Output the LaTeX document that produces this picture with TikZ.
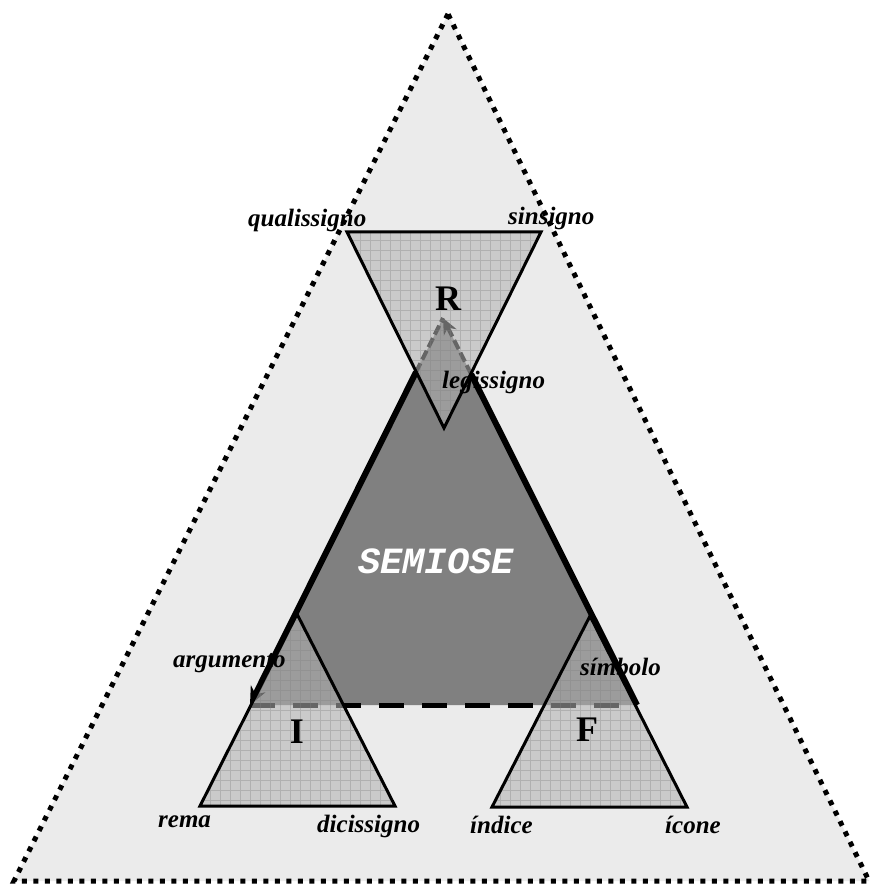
\documentclass[tikz,border=0pt]{standalone}
\usepackage{fontspec}
\setmainfont{Liberation Serif}
\setmonofont{Liberation Mono}
\usetikzlibrary{calc,arrows.meta}

\begin{document}
\begin{tikzpicture}[x=1pt, y=-1pt,
  sign/.style = {font=\fontsize{25}{25}\selectfont\bfseries\itshape, inner sep=0pt, anchor=base west},
  corner/.style = {font=\fontsize{36}{36}\selectfont\bfseries, inner sep=0pt},
  sub/.style = {fill=black!30, fill opacity=0.57},
  subedge/.style = {draw, line width=3pt, line join=miter},
  gridline/.style = {draw=black!50, line width=0.6pt, draw opacity=0.35},
  side/.style = {line width=6pt},
  hidden/.style = {line width=4pt, dash pattern=on 10pt off 4pt}]
\useasboundingbox[fill=white] (0,0) rectangle (876,885);
\coordinate (top) at (448,14);
\coordinate (bl) at (14,881);
\coordinate (br) at (869,881);
\fill[black!8] (top) -- (bl) -- (br) -- cycle;
\draw[line width=5pt, dash pattern=on 5pt off 6.5pt] (top) -- (bl) -- (br) -- cycle;

\coordinate (A) at (443,318);
\coordinate (L) at (250,705);
\coordinate (Rb) at (637,705);
\coordinate (cl) at ($(A)!0.14!(L)$);
\coordinate (cr) at ($(A)!0.145!(Rb)$);
\fill[black!50] (A) -- (L) -- (Rb) -- cycle;
\draw[side, -{Stealth[length=18pt,width=16pt]}] (cl) -- (L);
\draw[side] (cr) -- (Rb);
\draw[hidden] (cl) -- (A);
\draw[hidden, -{Stealth[length=16pt,width=14pt]}] (cr) -- (A);
\draw[line width=5pt, dash pattern=on 25pt off 18pt] (L) -- (Rb);

\coordinate (r1) at (347,232);
\coordinate (r2) at (541,232);
\coordinate (r3) at (444,428);
\coordinate (i1) at (297,614);
\coordinate (i2) at (200,806);
\coordinate (i3) at (395,806);
\coordinate (f1) at (590,616);
\coordinate (f2) at (492,807);
\coordinate (f3) at (687,807);
\foreach \t in {r,i,f} {
  \fill[sub] (\t1) -- (\t2) -- (\t3) -- cycle;
  \begin{scope}
    \clip (\t1) -- (\t2) -- (\t3) -- cycle;
    \draw[gridline, step=10pt] (0,0) grid (876,885);
  \end{scope}
  \draw[subedge] (\t1) -- (\t2) -- (\t3) -- cycle;
}

\node[corner] (R) at (448,299) {R};
\node[corner] (I) at (297,732) {I};
\node[corner] (F) at (587,730) {F};
\node[font=\fontsize{37}{37}\selectfont\ttfamily\bfseries\itshape, text=white] (sem) at (436,561) {SEMIOSE};

\node[sign] (qual) at (248,226) {qualissigno};
\node[sign] (sin) at (508,225) {sinsigno};
\node[sign] (leg) at (442,388) {legissigno};
\node[sign] (arg) at (173,667) {argumento};
\node[sign] (sim) at (580,675) {símbolo};
\node[sign] (rema) at (158,827) {rema};
\node[sign] (dic) at (317,832) {dicissigno};
\node[sign] (ind) at (470,833) {índice};
\node[sign] (ico) at (665,833) {ícone};
\end{tikzpicture}
\end{document}
